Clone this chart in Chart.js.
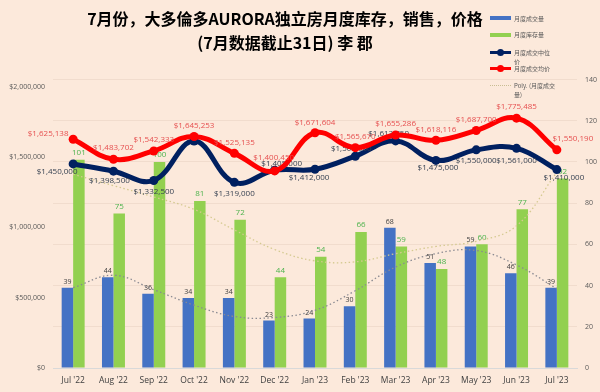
<!DOCTYPE html>
<html>
<head>
<meta charset="utf-8">
<script src="https://cdn.jsdelivr.net/npm/chart.js@4.4.1/dist/chart.umd.min.js"></script>
<style>
  html, body { margin: 0; padding: 0; background: #fce9db; }
  #wrap { position: relative; width: 600px; height: 392px; overflow: hidden; background: #fce9db; }
  #chart { position: absolute; left: 0; top: 0; }
  #title { position: absolute; left: 0; top: 6px; width: 570px; text-align: center;
           font-family: "Noto Sans CJK SC", sans-serif; font-weight: bold; font-size: 16px;
           line-height: 24px; color: #000; }
  .lg { position: absolute; left: 514px; font-family: "Noto Sans CJK SC", sans-serif;
        font-size: 6px; line-height: 9px; color: #595959; white-space: nowrap; }
  .sw { position: absolute; left: 490px; width: 21px; }
  .dot { position: absolute; left: 497px; width: 7px; height: 7px; border-radius: 50%; }
</style>
</head>
<body>
<div id="wrap">
  <canvas id="chart" width="600" height="392"></canvas>
  <div id="title">7月份，大多倫多AURORA独立房月度库存，销售，价格<br>(7月数据截止31日) 李 郡</div>

  <div class="sw" style="top:16px;height:4px;background:#4472c4"></div>
  <div class="lg" style="top:13.5px">月度成交量</div>

  <div class="sw" style="top:32.5px;height:4px;background:#92d050"></div>
  <div class="lg" style="top:30px">月度库存量</div>

  <div class="sw" style="top:50.5px;height:3px;background:#002060"></div>
  <div class="dot" style="top:48.5px;background:#002060"></div>
  <div class="lg" style="top:47.5px">月度成交中位<br>价</div>

  <div class="sw" style="top:66.5px;height:3px;background:#ff0000"></div>
  <div class="dot" style="top:64.5px;background:#ff0000"></div>
  <div class="lg" style="top:63.5px">月度成交均价</div>

  <div class="sw" style="top:84.5px;height:0;border-top:1px dotted #c9bd93"></div>
  <div class="lg" style="top:80.5px">Poly. (月度成交<br>量)</div>
</div>

<script>
// data
const months = ["Jul '22", "Aug '22", "Sep '22", "Oct '22", "Nov '22", "Dec '22", "Jan '23",
                "Feb '23", "Mar '23", "Apr '23", "May '23", "Jun '23", "Jul '23"];
const salesCount = [39, 44, 36, 34, 34, 23, 24, 30, 68, 51, 59, 46, 39];
const inventory = [101, 75, 100, 81, 72, 44, 54, 66, 59, 48, 60, 77, 92];
const medianPrice = [1450000, 1398500, 1332500, 1612500, 1319000, 1405000, 1412000,
                     1505000, 1613750, 1475000, 1550000, 1561000, 1410000];
const avgPrice = [1625138, 1483702, 1542333, 1645253, 1525135, 1400450, 1671604,
                  1565670, 1655286, 1618116, 1687700, 1775485, 1550190];
// trendlines (Excel poly), read at each month
const salesTrend = [39, 45, 38, 30.5, 25, 24.5, 28, 37.5, 49, 55.5, 57, 50, 38.5];
const inventoryTrend = [94, 88.5, 83, 77, 67, 57.5, 52, 51.5, 55.5, 59, 61.5, 69, 95];
const priceTicks = [0, 500000, 1000000, 1500000, 2000000];
const countTicks = [0, 20, 40, 60, 80, 100, 120, 140];

const money = v => '$' + v.toLocaleString('en-US');

// draws the value labels right after each dataset, so later lines can cover them
const valueLabels = {
  id: 'valueLabels',
  afterDatasetDraw(chart, args) {
    const ds = chart.data.datasets[args.index];
    const st = ds.valueLabel;
    if (!st) return;
    const ctx = chart.ctx;
    ctx.save();
    ctx.font = st.font;
    ctx.fillStyle = st.color;
    ctx.textAlign = 'center';
    ctx.textBaseline = 'middle';
    args.meta.data.forEach((el, j) => {
      const dy = Array.isArray(st.dy) ? st.dy[j] : st.dy;
      if (dy === null) return;
      const dx = st.dx ? st.dx[j] : 0;
      ctx.fillText(st.format(ds.data[j]), el.x + dx, el.y + dy);
    });
    ctx.restore();
  }
};

const ctx = document.getElementById('chart').getContext('2d');
new Chart(ctx, {
  data: {
    labels: months,
    datasets: [
      {
        type: 'line', label: '月度成交均价', data: avgPrice, yAxisID: 'y', order: 0,
        borderColor: '#ff0000', backgroundColor: '#ff0000', borderWidth: 5,
        pointRadius: 4.5, pointBorderWidth: 0, tension: 0.4,
        valueLabel: { font: '8px "Open Sans"', color: '#e65050', format: money,
          dx: [-25, 0, 0, 0, 0, -1, 0, 0, 0, 0, 0, 0, 16],
          dy: [-6, -11, -11, -11, -11, -13, -10, -11, -11, -11, -11, -11, -11] }
      },
      {
        type: 'line', label: '月度成交中位价', data: medianPrice, yAxisID: 'y', order: 1,
        borderColor: '#002060', backgroundColor: '#002060', borderWidth: 5,
        pointRadius: 4.5, pointBorderWidth: 0, tension: 0.4,
        valueLabel: { font: '8px "Open Sans"', color: '#333f50', format: money,
          dx: [-16, -4, 0, 0, 0, 7, -6, -4, -7, 2, 0, 0, 7],
          dy: [8, 10, 11, null, 11, -7, 8, -7, -7, 7, 11, 12, 8] }
      },
      {
        type: 'line', label: 'Poly. (月度成交量)', data: salesTrend, yAxisID: 'y1', order: 2,
        borderColor: '#8a8a92', borderWidth: 1.3, borderDash: [1.5, 2.5],
        pointRadius: 0, tension: 0.4, fill: false
      },
      {
        type: 'line', label: 'Poly. (月度库存量)', data: inventoryTrend, yAxisID: 'y1', order: 2,
        borderColor: '#d4c98f', borderWidth: 1.3, borderDash: [1.5, 2.5],
        pointRadius: 0, tension: 0.4, fill: false
      },
      {
        type: 'bar', label: '月度成交量', data: salesCount, yAxisID: 'y1', order: 3,
        backgroundColor: '#4472c4', categoryPercentage: 0.57, barPercentage: 1.0,
        valueLabel: { font: '7px "Open Sans"', color: '#404040', format: v => v, dy: -6 }
      },
      {
        type: 'bar', label: '月度库存量', data: inventory, yAxisID: 'y1', order: 3,
        backgroundColor: '#92d050', categoryPercentage: 0.57, barPercentage: 1.0,
        valueLabel: { font: '8px "Open Sans"', color: '#4db34d', format: v => v, dy: -7 }
      }
    ]
  },
  options: {
    responsive: false,
    animation: false,
    devicePixelRatio: 1,
    layout: { padding: { top: 79.5, left: 0, right: 0, bottom: 0 } },
    plugins: { legend: { display: false }, tooltip: { enabled: false } },
    scales: {
      x: {
        grid: { color: 'transparent', drawTicks: false },
        border: { display: true, color: '#d9d9d9', width: 1 },
        ticks: { font: { family: 'Open Sans', size: 8.5 }, color: '#404040',
                 padding: 7, maxRotation: 0, autoSkip: false },
        afterFit: s => { s.height = 24; }
      },
      y: {
        position: 'left', min: 0, max: 2050000,
        grid: { display: false, drawTicks: false },
        border: { display: false },
        ticks: { font: { family: 'Open Sans', size: 7 }, color: '#595959', padding: 8,
                 callback: v => money(v) },
        afterBuildTicks: s => { s.ticks = priceTicks.map(v => ({ value: v })); },
        afterFit: s => { s.width = 53; }
      },
      y1: {
        position: 'right', min: 0, max: 140,
        grid: { color: 'rgba(150,110,90,0.10)', drawTicks: false },
        border: { display: false },
        ticks: { font: { family: 'Open Sans', size: 7 }, color: '#595959', padding: 8 },
        afterBuildTicks: s => { s.ticks = countTicks.map(v => ({ value: v })); },
        afterFit: s => { s.width = 23; }
      }
    }
  },
  plugins: [valueLabels]
});
</script>
</body>
</html>
